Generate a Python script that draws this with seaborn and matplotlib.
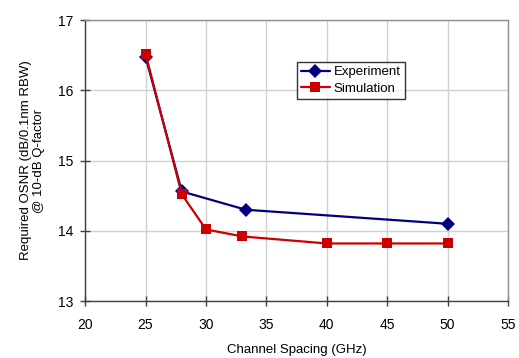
import matplotlib
matplotlib.use("Agg")
import pandas as pd
import matplotlib.pyplot as plt
import seaborn as sns

exp_spacing = [25, 28, 33.3, 50]
exp_osnr = [16.48, 14.56, 14.3, 14.1]
sim_spacing = [25, 28, 30, 33, 40, 45, 50]
sim_osnr = [16.52, 14.52, 14.02, 13.92, 13.82, 13.82, 13.82]

df_exp = pd.DataFrame({"spacing": exp_spacing, "osnr": exp_osnr})
df_sim = pd.DataFrame({"spacing": sim_spacing, "osnr": sim_osnr})

sns.set_style("white")
plt.rcParams["font.family"] = ["Liberation Sans", "DejaVu Sans"]
plt.rcParams["text.color"] = "black"
plt.rcParams["axes.labelcolor"] = "black"

fig = plt.figure(figsize=(5.19, 3.58), dpi=100)
ax = fig.add_axes([0.164, 0.159, 0.815, 0.785])

sns.lineplot(data=df_exp, x="spacing", y="osnr", ax=ax, color="#000080",
             marker="D", markersize=7, markeredgewidth=0, linewidth=1.6,
             label="Experiment", zorder=3)
sns.lineplot(data=df_sim, x="spacing", y="osnr", ax=ax, color="#CC0000",
             marker="s", markersize=7.5, markeredgewidth=0, linewidth=1.6,
             label="Simulation", zorder=4)

ax.set_xlim(20, 55)
ax.set_ylim(13, 17)
ax.set_xticks(range(20, 56, 5))
ax.set_yticks(range(13, 18))
ax.grid(True, color="#d0d0d0", linewidth=1)
ax.set_axisbelow(True)

for s in ["top", "right"]:
    ax.spines[s].set_color("#909090")
    ax.spines[s].set_linewidth(1)
for s in ["left", "bottom"]:
    ax.spines[s].set_color("#404040")
    ax.spines[s].set_linewidth(1)

ax.tick_params(bottom=True, left=True, direction="inout", length=7, width=1,
               color="#404040", labelcolor="black", labelsize=10)
ax.tick_params(axis="y", pad=5)
ax.tick_params(axis="x", pad=9)

ax.set_xlabel("Channel Spacing (GHz)", fontsize=9.5, labelpad=8)
ax.set_ylabel("Required OSNR (dB/0.1nm RBW)\n@ 10-dB Q-factor", fontsize=9.5,
              labelpad=9)

leg = ax.legend(loc="upper left", bbox_to_anchor=(0.50, 0.85), fontsize=9.5,
                frameon=True, fancybox=False, borderpad=0.3, handlelength=2.2,
                labelspacing=0.3, handletextpad=0.3, borderaxespad=0)
leg.get_frame().set_edgecolor("black")
leg.get_frame().set_linewidth(1)

fig.savefig("out.png", dpi=100)
